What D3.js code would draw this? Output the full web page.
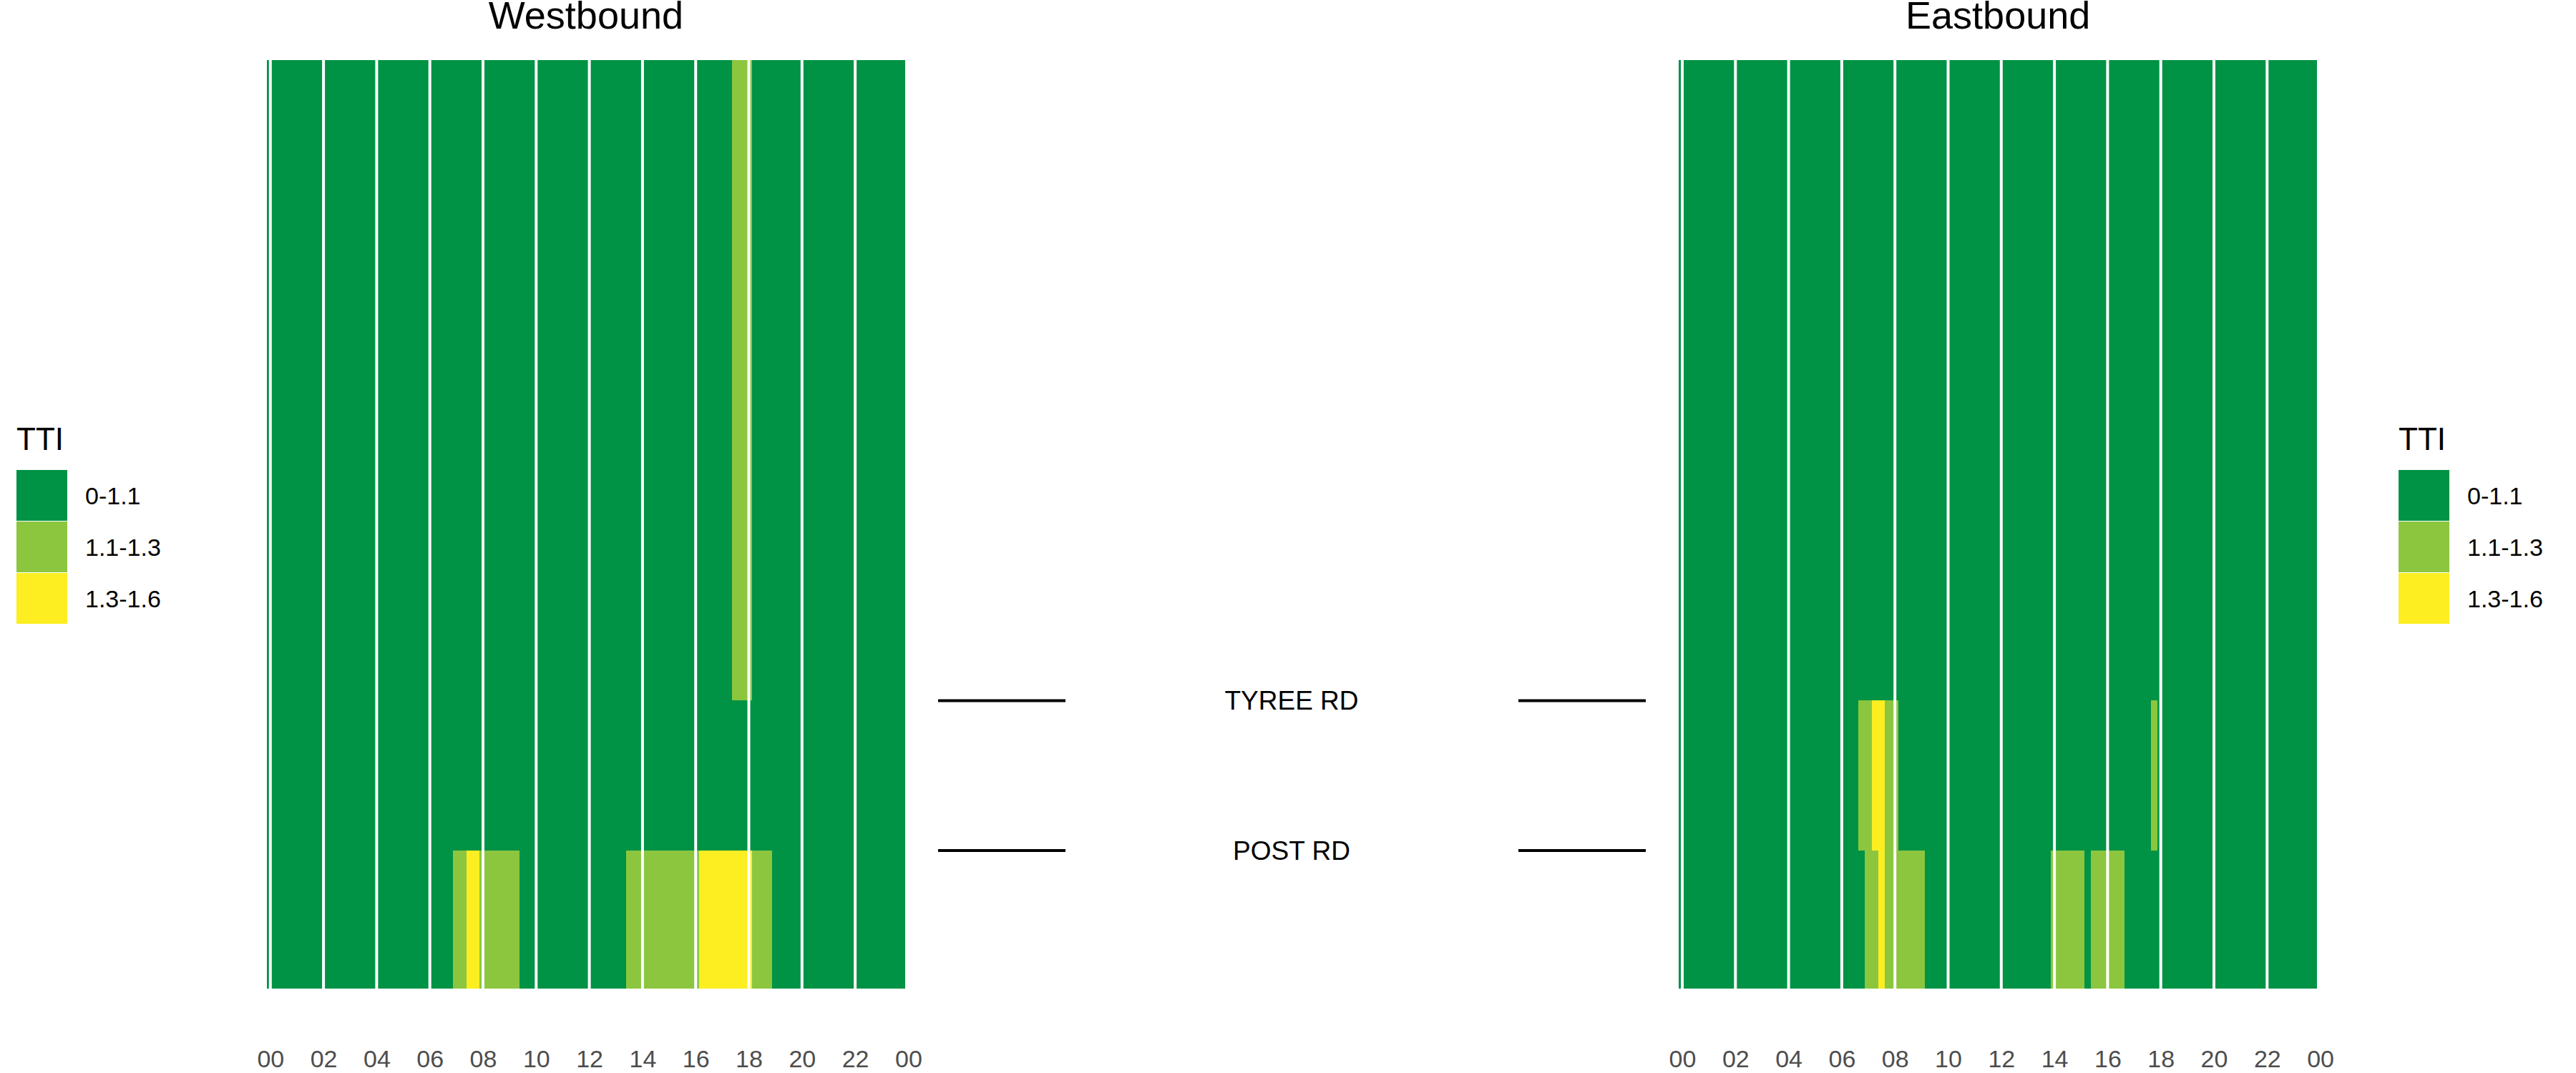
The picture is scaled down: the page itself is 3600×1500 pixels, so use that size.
<!DOCTYPE html>
<html>
<head>
<meta charset="utf-8">
<script src="https://cdn.jsdelivr.net/npm/d3@7"></script>
<style>
  html, body { margin: 0; padding: 0; background: #ffffff; }
  svg { display: block; font-family: "Liberation Sans", Arial, sans-serif; }
</style>
</head>
<body>
<svg id="chart" width="3600" height="1500"></svg>
<script>
// ---------------- DATA ----------------
const directions = ["Westbound", "Eastbound"];
const ttiCategories = ["0-1.1", "1.1-1.3", "1.3-1.6"];
const ttiColors = ["#009245", "#8CC63F", "#FCEE21"];

// segment lengths (miles), listed top -> bottom
const segmentMiles = [4.27, 1.00, 0.92];
const boundaryRoads = ["TYREE RD", "POST RD"];

// 15-minute TTI category codes (0,1,2), one group of 4 per hour, 00h..23h
const westTop    = "0000 0000 0000 0000 0000 0000 0000 0000 0000 0000 0000 0000 0000 0000 0000 0000 0000 0011 1000 0000 0000 0000 0000 0000";
const westMiddle = "0000 0000 0000 0000 0000 0000 0000 0000 0000 0000 0000 0000 0000 0000 0000 0000 0000 0000 0000 0000 0000 0000 0000 0000";
const westBottom = "0000 0000 0000 0000 0000 0000 0000 1122 1111 1100 0000 0000 0000 0011 1111 1111 1222 2222 2111 0000 0000 0000 0000 0000";
const eastTop    = "0000 0000 0000 0000 0000 0000 0000 0000 0000 0000 0000 0000 0000 0000 0000 0000 0000 0000 0000 0000 0000 0000 0000 0000";
const eastMiddle = "0000 0000 0000 0000 0000 0000 0001 1221 1000 0000 0000 0000 0000 0000 0000 0000 0000 0001 0000 0000 0000 0000 0000 0000";
const eastBottom = "0000 0000 0000 0000 0000 0000 0000 1121 1111 1000 0000 0000 0000 0000 1111 1011 1110 0000 0000 0000 0000 0000 0000 0000";

const tickHours  = [0, 2, 4, 6, 8, 10, 12, 14, 16, 18, 20, 22, 24];
const tickLabels = ["00", "02", "04", "06", "08", "10", "12", "14", "16", "18", "20", "22", "00"];

const binHours = 0.25;

// ---------------- BUILD ----------------
const panelsData = {
  Westbound: [westTop, westMiddle, westBottom],
  Eastbound: [eastTop, eastMiddle, eastBottom]
};

const svg = d3.select("#chart");
svg.append("rect").attr("width", 3600).attr("height", 1500).attr("fill", "#ffffff");

const hourPx = 37.15;
const panelX0 = { Westbound: 377.8, Eastbound: 2351 };
const plotTop = 84, plotBottom = 1382;

const segEdges = [0];
segmentMiles.forEach(m => segEdges.push(segEdges[segEdges.length - 1] + m));
const totalMiles = segEdges[segEdges.length - 1];

const y = d3.scaleLinear().domain([0, totalMiles]).range([plotTop, plotBottom]);
const color = d3.scaleOrdinal().domain([0, 1, 2]).range(ttiColors);

directions.forEach(dir => {
  const x = d3.scaleLinear().domain([0, 24]).range([panelX0[dir], panelX0[dir] + 24 * hourPx]);
  const g = svg.append("g");

  const tiles = [];
  panelsData[dir].forEach((str, s) => {
    const codes = str.replace(/\s+/g, "").split("").map(Number);
    codes.forEach((c, i) => {
      tiles.push({ t: i * binHours, seg: s, code: c });
    });
  });

  g.append("g").selectAll("rect").data(tiles).join("rect")
    .attr("x", d => x(d.t - binHours / 2))
    .attr("width", d => x(d.t + binHours / 2) - x(d.t - binHours / 2))
    .attr("y", d => y(segEdges[d.seg]))
    .attr("height", d => y(segEdges[d.seg + 1]) - y(segEdges[d.seg]))
    .attr("fill", d => color(d.code))
    .attr("shape-rendering", "crispEdges");

  // white hour separators
  g.append("g").selectAll("line").data(tickHours.slice(0, -1)).join("line")
    .attr("x1", d => x(d)).attr("x2", d => x(d))
    .attr("y1", plotTop).attr("y2", plotBottom)
    .attr("stroke", "#ffffff").attr("stroke-width", 4);

  // x axis
  const axis = d3.axisBottom(x).tickValues(tickHours).tickSize(0)
    .tickFormat((d, i) => tickLabels[i]);
  const ax = g.append("g").attr("transform", `translate(0,${plotBottom})`).call(axis);
  ax.select(".domain").remove();
  ax.selectAll("text")
    .attr("y", 0).attr("dy", 0)
    .attr("transform", `translate(0,${1492 - plotBottom})`)
    .attr("font-size", 34)
    .attr("font-family", "Liberation Sans, Arial, sans-serif")
    .attr("fill", "#4D4D4D");

  // title
  const pLeft = x(-binHours / 2), pRight = x(24 - binHours / 2);
  g.append("text")
    .attr("x", (pLeft + pRight) / 2).attr("y", 40)
    .attr("text-anchor", "middle")
    .attr("font-size", 54)
    .attr("fill", "#000000")
    .text(dir);
});

// road labels between panels
const roadG = svg.append("g");
boundaryRoads.forEach((name, i) => {
  const yy = y(segEdges[i + 1]);
  roadG.append("line").attr("x1", 1311).attr("x2", 1489).attr("y1", yy).attr("y2", yy)
    .attr("stroke", "#000000").attr("stroke-width", 4);
  roadG.append("line").attr("x1", 2122).attr("x2", 2300).attr("y1", yy).attr("y2", yy)
    .attr("stroke", "#000000").attr("stroke-width", 4);
  roadG.append("text").attr("x", 1805).attr("y", yy + 13)
    .attr("text-anchor", "middle").attr("font-size", 37).attr("fill", "#000000")
    .text(name);
});

// legends
function drawLegend(x0) {
  const lg = svg.append("g").attr("transform", `translate(${x0},0)`);
  lg.append("text").attr("x", 0).attr("y", 629).attr("font-size", 44).attr("fill", "#000").text("TTI");
  ttiCategories.forEach((lab, i) => {
    const top = 657 + i * 72;
    lg.append("rect").attr("x", 0).attr("y", top).attr("width", 71).attr("height", 71)
      .attr("fill", ttiColors[i]);
    lg.append("text").attr("x", 96).attr("y", top + 35.5 + 12.5)
      .attr("font-size", 34).attr("fill", "#000").text(lab);
  });
}
drawLegend(23);
drawLegend(3352);
</script>
</body>
</html>
